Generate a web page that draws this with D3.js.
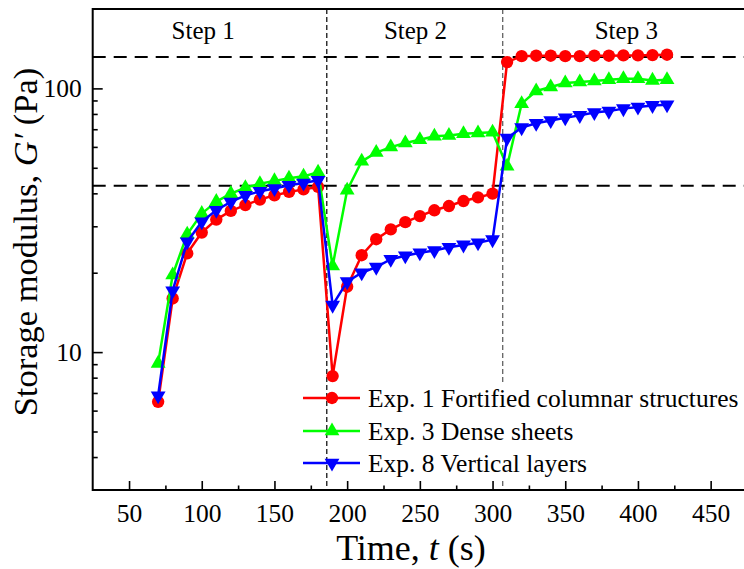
<!DOCTYPE html>
<html>
<head>
<meta charset="utf-8">
<script src="https://cdn.jsdelivr.net/npm/d3@7"></script>
<style>
  html, body { margin: 0; padding: 0; background: #fff; }
  svg { display: block; font-family: "Liberation Serif", "Times New Roman", serif; }
</style>
</head>
<body>
<svg id="chart" width="744" height="569"></svg>
<script>
// Sampling times (s), shared by all three experiments
const times = [70, 80, 90, 100, 110, 120, 130, 140, 150, 160, 170, 180,
               190, 200, 210, 220, 230, 240, 250, 260, 270, 280, 290, 300,
               310, 320, 330, 340, 350, 360, 370, 380, 390, 400, 410, 420];

// Storage modulus G' (Pa)
const exp1 = [6.48, 15.97, 23.7, 28.4, 31.8, 34.3, 36.1, 37.9, 39.3, 40.5, 41.4, 42.3,
              8.11, 17.7, 23.3, 26.8, 29.2, 31.1, 32.8, 34.5, 35.8, 37.4, 38.6, 39.9,
              125.8, 132.5, 133.0, 133.0, 132.5, 132.5, 133.0, 133.0, 133.4, 133.4, 133.7, 134.2];
const exp3 = [9.06, 19.6, 28.0, 33.5, 37.2, 39.9, 42.0, 43.5, 44.6, 45.6, 46.4, 48.1,
              21.2, 41.1, 52.9, 57.1, 59.9, 62.1, 63.9, 65.8, 66.3, 67.3, 67.7, 68.2,
              50.7, 87.5, 97.7, 101.2, 104.8, 105.7, 106.6, 107.9, 108.8, 108.8, 107.2, 107.9];
const exp8 = [6.83, 17.1, 26.2, 31.2, 34.5, 37.1, 39.3, 40.7, 41.7, 42.9, 43.8, 44.8,
              15.07, 18.5, 20.0, 21.0, 22.5, 23.2, 23.8, 24.3, 25.0, 25.5, 26.0, 26.7,
              64.8, 71.0, 73.8, 75.6, 77.4, 79.0, 81.0, 82.0, 83.8, 85.0, 86.2, 86.7];

const seriesNames = ["Exp. 1 Fortified columnar structures", "Exp. 3 Dense sheets", "Exp. 8 Vertical layers"];
const seriesColors = ["#ff0000", "#00ff00", "#0000ff"];

// Axis ticks
const xMajorTicks = [50, 100, 150, 200, 250, 300, 350, 400, 450];
const xMinorTicks = [75, 125, 175, 225, 275, 325, 375, 425, 475];
const yMajorTicks = [10, 100];
const yMinorTicks = [4, 5, 6, 7, 8, 9, 20, 30, 40, 50, 60, 70, 80, 90];

// Step boundaries and reference levels
const stepBounds = [186, 307];
const stepLabels = ["Step 1", "Step 2", "Step 3"];
const stepLabelTimes = [101, 247, 392];
const refLevels = [131.4, 42.7];

const margin = { left: 92.7, right: 747, top: 9, bottom: 490 };
const svg = d3.select("#chart");

const x = d3.scaleLinear().domain([25, 475]).range([margin.left, margin.right]);
const y = d3.scaleLog().domain([3, 200]).range([margin.bottom, margin.top]);

// Step dividers
stepBounds.forEach((t, i) => {
  svg.append("line")
    .attr("x1", x(t)).attr("x2", x(t))
    .attr("y1", margin.top).attr("y2", margin.bottom)
    .attr("stroke", i === 0 ? "#000" : "#555")
    .attr("stroke-width", 1.2)
    .attr("stroke-dasharray", "5,3");
});

// Reference levels
refLevels.forEach(v => {
  svg.append("line")
    .attr("x1", margin.left).attr("x2", margin.right)
    .attr("y1", y(v)).attr("y2", y(v))
    .attr("stroke", "#000")
    .attr("stroke-width", 2)
    .attr("stroke-dasharray", "13,8");
});

// Step labels
stepLabels.forEach((s, i) => {
  svg.append("text")
    .attr("x", x(stepLabelTimes[i])).attr("y", 39)
    .attr("text-anchor", "middle")
    .attr("font-size", 25)
    .text(s);
});

// Marker shapes
const circleSym = d3.symbol().type(d3.symbolCircle).size(120);
const triUp = d3.symbol().type(d3.symbolTriangle).size(95);
const triDown = d3.symbol().type(d3.symbolTriangle).size(95);
const markerPaths = [circleSym(), triUp(), triDown()];
const markerRot = [0, 0, 180];

const allSeries = [exp1, exp3, exp8];
const line = d3.line().x(d => x(d[0])).y(d => y(d[1]));

allSeries.forEach((vals, si) => {
  const pts = times.map((t, i) => [t, vals[i]]);
  const g = svg.append("g");
  g.append("path")
    .attr("d", line(pts))
    .attr("fill", "none")
    .attr("stroke", seriesColors[si])
    .attr("stroke-width", 2.5)
    .attr("stroke-linejoin", "round");
  g.selectAll("path.m").data(pts).join("path")
    .attr("class", "m")
    .attr("d", markerPaths[si])
    .attr("transform", d => `translate(${x(d[0])},${y(d[1])}) rotate(${markerRot[si]})`)
    .attr("fill", seriesColors[si]);
});

// Axes
const axisStyle = g => {
  g.selectAll(".domain").remove();
  g.selectAll("line").attr("stroke", "#000").attr("stroke-width", 1.6);
  g.selectAll("text").attr("font-size", 25.5).attr("fill", "#000")
    .attr("font-family", "'Liberation Serif', 'Times New Roman', serif");
};

svg.append("g").attr("transform", `translate(0,${margin.bottom})`)
  .call(d3.axisBottom(x).tickValues(xMajorTicks).tickSize(-9).tickPadding(14).tickFormat(d3.format("d")))
  .call(axisStyle);
svg.append("g").attr("transform", `translate(0,${margin.bottom})`)
  .call(d3.axisBottom(x).tickValues(xMinorTicks).tickSize(-4.5).tickFormat(""))
  .call(axisStyle);
svg.append("g").attr("transform", `translate(${margin.left},0)`)
  .call(d3.axisLeft(y).tickValues(yMajorTicks).tickSize(-10).tickPadding(11).tickFormat(d3.format("d")))
  .call(axisStyle);
svg.append("g").attr("transform", `translate(${margin.left},0)`)
  .call(d3.axisLeft(y).tickValues(yMinorTicks).tickSize(-5).tickFormat(""))
  .call(axisStyle);

// Frame
svg.append("rect")
  .attr("x", margin.left).attr("y", margin.top)
  .attr("width", margin.right - margin.left).attr("height", margin.bottom - margin.top)
  .attr("fill", "none").attr("stroke", "#000").attr("stroke-width", 2);

// Legend
const legendX = 303, legendY = [398, 431, 463];
svg.append("rect")
  .attr("x", 364).attr("y", 384).attr("width", 380).attr("height", 94)
  .attr("fill", "#fff");
seriesNames.forEach((name, i) => {
  const g = svg.append("g");
  g.append("line")
    .attr("x1", legendX).attr("x2", legendX + 57)
    .attr("y1", legendY[i]).attr("y2", legendY[i])
    .attr("stroke", seriesColors[i]).attr("stroke-width", 2.5);
  g.append("path")
    .attr("d", markerPaths[i])
    .attr("transform", `translate(${legendX + 29},${legendY[i]}) rotate(${markerRot[i]})`)
    .attr("fill", seriesColors[i]);
  g.append("text")
    .attr("x", 368).attr("y", legendY[i]).attr("dy", "0.35em")
    .attr("font-size", 25.5)
    .text(name);
});

// Axis titles
svg.append("text")
  .attr("x", 411).attr("y", 560)
  .attr("text-anchor", "middle")
  .attr("font-size", 36)
  .call(t => {
    t.append("tspan").text("Time, ");
    t.append("tspan").attr("font-style", "italic").text("t");
    t.append("tspan").text(" (s)");
  });

svg.append("text")
  .attr("transform", "translate(37,242) rotate(-90)")
  .attr("text-anchor", "middle")
  .attr("font-size", 34.5)
  .call(t => {
    t.append("tspan").text("Storage modulus, ");
    t.append("tspan").attr("font-style", "italic").text("G′");
    t.append("tspan").text(" (Pa)");
  });
</script>
</body>
</html>
